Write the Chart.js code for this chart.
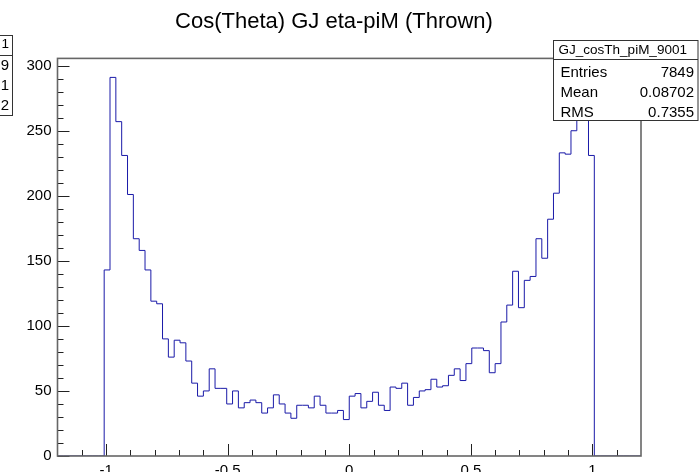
<!DOCTYPE html>
<html>
<head>
<meta charset="utf-8">
<script src="https://cdn.jsdelivr.net/npm/chart.js@4"></script>
<style>
  html, body { margin: 0; padding: 0; background: #fff; }
  canvas { display: block; }
</style>
</head>
<body>
<canvas id="histChart" width="700" height="472"></canvas>
<script>
// histogram: 100 bins from -1.2 to 1.2
const histTitle = 'Cos(Theta) GJ eta-piM (Thrown)';
const binStart = -1.2;
const binWidth = 0.024;
const counts = [
    0, 0, 0, 0, 0, 0, 0, 0,
    143, 291, 257, 231, 201, 167, 158, 143, 119, 117,
    90, 76, 89, 87, 73, 56, 46, 50, 67, 52,
    52, 40, 50, 37, 41, 43, 41, 33, 37, 47,
    40, 33, 29, 39, 39, 37, 46, 39, 33, 33,
    35, 28, 46, 48, 37, 42, 49, 39, 35, 53,
    52, 56, 39, 45, 50, 51, 59, 53, 54, 62,
    67, 58, 71, 83, 83, 81, 64, 71, 103, 116,
    142, 114, 135, 138, 167, 152, 182, 202, 233, 232,
    250, 280, 290, 231,
    0, 0, 0, 0, 0, 0, 0, 0
];

const xTickValues = [-1, -0.5, 0, 0.5, 1];
const yTickValues = [0, 50, 100, 150, 200, 250, 300];
const xRange = [-1.2, 1.2];
const yMax = 305.6;

const statsName = 'GJ_cosTh_piM_9001';
const statLabels = ['Entries', 'Mean', 'RMS'];
const statValues = ['7849', '0.08702', '0.7355'];
// tail of another stats box cut off at the left edge
const leftBoxTail = ['1', '9', '1', '2'];

// step outline points: each bin level placed at its left edge, closed at the last edge
function buildOutline() {
    const pts = [{ x: binStart, y: 0 }];
    counts.forEach((c, i) => {
        pts.push({ x: binStart + i * binWidth, y: c });
    });
    pts.push({ x: binStart + counts.length * binWidth, y: 0 });
    return pts;
}

const FONT = "'Liberation Sans', Arial, Helvetica, sans-serif";

const rootFrame = {
    id: 'rootFrame',
    afterDatasetsDraw(chart) {
        const { ctx, chartArea: a, scales: { x, y } } = chart;
        ctx.save();
        ctx.strokeStyle = '#222';
        ctx.lineWidth = 1;
        ctx.beginPath();
        // x ticks every 0.1, major every 0.5
        for (let i = -11; i <= 11; i++) {
            const v = i / 10;
            const px = Math.round(x.getPixelForValue(v)) + 0.5;
            const len = (i % 5 === 0) ? 12 : 6;
            ctx.moveTo(px, a.bottom);
            ctx.lineTo(px, a.bottom - len);
        }
        // y ticks every 10, major every 50
        for (let v = 0; v <= 300; v += 10) {
            const py = Math.round(y.getPixelForValue(v)) + 0.5;
            const len = (v % 50 === 0) ? 12 : 6;
            ctx.moveTo(a.left, py);
            ctx.lineTo(a.left + len, py);
        }
        ctx.stroke();
        ctx.strokeStyle = '#666';
        ctx.lineWidth = 1.6;
        ctx.strokeRect(a.left, a.top, a.right - a.left, a.bottom - a.top);
        ctx.restore();
    },
    afterDraw(chart) {
        const ctx = chart.ctx;
        const w = chart.width;
        ctx.save();
        // stats box
        const bx = 553.5, by = 40.5, bw = w - 2 - bx, bh = 80;
        ctx.fillStyle = '#fff';
        ctx.fillRect(bx, by, bw, bh);
        ctx.strokeStyle = '#333';
        ctx.lineWidth = 1;
        ctx.strokeRect(bx, by, bw, bh);
        ctx.beginPath();
        ctx.moveTo(bx, by + 19);
        ctx.lineTo(bx + bw, by + 19);
        ctx.stroke();
        ctx.fillStyle = '#000';
        ctx.textBaseline = 'middle';
        ctx.font = '13.5px ' + FONT;
        ctx.textAlign = 'center';
        ctx.fillText(statsName, bx + bw / 2 - 3, by + 10);
        ctx.font = '15px ' + FONT;
        statLabels.forEach((lab, i) => {
            const ty = by + 32 + i * 20;
            ctx.textAlign = 'left';
            ctx.fillText(lab, bx + 7, ty);
            ctx.textAlign = 'right';
            ctx.fillText(statValues[i], bx + bw - 4, ty);
        });

        // clipped box at left edge
        ctx.fillStyle = '#fff';
        ctx.fillRect(-5, 35.5, 17.5, 80);
        ctx.strokeRect(-5, 35.5, 17.5, 80);
        ctx.beginPath();
        ctx.moveTo(-5, 55.5);
        ctx.lineTo(12.5, 55.5);
        ctx.stroke();
        ctx.fillStyle = '#000';
        ctx.textAlign = 'right';
        leftBoxTail.forEach((t, i) => {
            ctx.font = (i === 0 ? '13.5px ' : '15px ') + FONT;
            ctx.fillText(t, 9, (i === 0 ? 44 : 46) + i * 20);
        });
        ctx.restore();
    }
};

new Chart(document.getElementById('histChart'), {
    type: 'line',
    data: {
        datasets: [{
            data: buildOutline(),
            stepped: 'before',
            borderColor: '#1a1aa8',
            borderWidth: 1,
            pointRadius: 0,
            fill: false
        }]
    },
    options: {
        responsive: false,
        animation: false,
        devicePixelRatio: 1,
        layout: { padding: { left: 27, right: 59, top: 0, bottom: 0 } },
        plugins: {
            legend: { display: false },
            tooltip: { enabled: false },
            title: {
                display: true,
                text: histTitle,
                color: '#000',
                font: { family: FONT, size: 22, weight: 'normal' },
                padding: { top: 9, bottom: 23 }
            }
        },
        scales: {
            x: {
                type: 'linear',
                min: xRange[0],
                max: xRange[1],
                grid: { display: false, drawTicks: false },
                border: { display: false },
                afterBuildTicks: s => { s.ticks = xTickValues.map(v => ({ value: v })); },
                afterFit: s => { s.height = 16; },
                ticks: {
                    padding: 6,
                    color: '#000',
                    maxRotation: 0,
                    font: { family: FONT, size: 15 },
                    callback: v => String(v)
                }
            },
            y: {
                type: 'linear',
                min: 0,
                max: yMax,
                grid: { display: false, drawTicks: false },
                border: { display: false },
                afterBuildTicks: s => { s.ticks = yTickValues.map(v => ({ value: v })); },
                afterFit: s => { s.width = 30.5; },
                ticks: {
                    padding: 6,
                    color: '#000',
                    font: { family: FONT, size: 15 },
                    callback: v => String(v)
                }
            }
        }
    },
    plugins: [rootFrame]
});
</script>
</body>
</html>
